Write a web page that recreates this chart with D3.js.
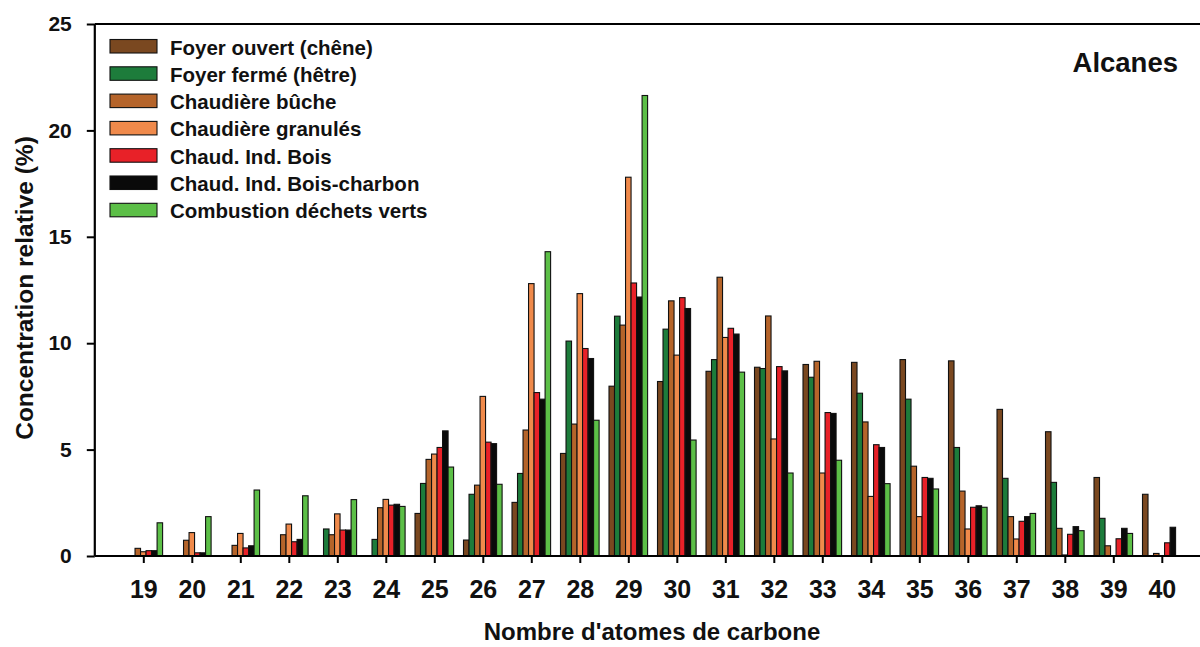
<!DOCTYPE html>
<html><head><meta charset="utf-8">
<script src="https://cdn.jsdelivr.net/npm/d3@7"></script>
<style>body{margin:0;background:#fff;}svg{display:block;font-family:"Liberation Sans",Arial,sans-serif;font-weight:bold;}</style>
</head><body>
<svg id="c" width="1200" height="647"></svg>
<script>
const categories = [19,20,21,22,23,24,25,26,27,28,29,30,31,32,33,34,35,36,37,38,39,40];
const seriesNames = ["Foyer ouvert (chêne)","Foyer fermé (hêtre)","Chaudière bûche","Chaudière granulés","Chaud. Ind. Bois","Chaud. Ind. Bois-charbon","Combustion déchets verts"];
const seriesColors = ["#7a4820","#1d7c3b","#b5642a","#f08a4b","#e82128","#0a0a0a","#5cbf47"];
const foyerOuvert   = [0,0,0,0,0,0,2.0,0.75,2.52,4.82,7.98,8.2,8.68,8.87,9.0,9.1,9.23,9.17,6.89,5.84,3.69,2.9];
const foyerFerme    = [0,0,0,0,1.27,0.78,3.41,2.9,3.88,10.1,11.27,10.66,9.23,8.81,8.4,7.65,7.37,5.1,3.65,3.46,1.77,0];
const chaudBuche    = [0.36,0.74,0.5,1.0,1.0,2.27,4.54,3.33,5.92,6.2,10.85,11.99,13.1,11.28,9.15,6.3,4.22,3.05,1.85,1.3,0.48,0.12];
const chaudGranules = [0.2,1.1,1.06,1.5,1.98,2.66,4.79,7.5,12.8,12.33,17.8,9.44,10.27,5.5,3.9,2.8,1.85,1.27,0.8,0.05,0,0];
const indBois       = [0.25,0.15,0.38,0.67,1.22,2.39,5.1,5.35,7.68,9.75,12.83,12.14,10.7,8.9,6.74,5.23,3.69,2.29,1.63,1.02,0.81,0.62];
const indBoisCharbon= [0.25,0.15,0.48,0.78,1.22,2.43,5.88,5.28,7.37,9.28,12.17,11.63,10.43,8.7,6.7,5.1,3.65,2.36,1.85,1.38,1.3,1.35];
const dechetsVerts  = [1.56,1.85,3.1,2.83,2.65,2.33,4.18,3.37,14.3,6.38,21.64,5.45,8.64,3.9,4.5,3.4,3.15,2.29,2.0,1.19,1.06,0];
const yTicks = [0,5,10,15,20,25];
const seriesValues = [foyerOuvert,foyerFerme,chaudBuche,chaudGranules,indBois,indBoisCharbon,dechetsVerts];

const svg = d3.select("#c");
const x = d3.scaleLinear().domain([18,41]).range([94.8,1210.3]);
const y = d3.scaleLinear().domain([0,25]).range([556,24]);
const inner = d3.scaleBand().domain(d3.range(seriesNames.length)).range([-19.3,19.3]);

// bars
const g = svg.append("g");
seriesValues.forEach((vals,si)=>{
  g.selectAll(null).data(categories.map((c,i)=>({c,v:vals[i]})).filter(d=>d.v>0))
   .enter().append("rect")
   .attr("x",d=>x(d.c)+inner(si))
   .attr("width",inner.bandwidth())
   .attr("y",d=>y(d.v))
   .attr("height",d=>y(0)-y(d.v))
   .attr("fill",seriesColors[si])
   .attr("stroke","#111").attr("stroke-width",1.1);
});

// axes
const xAxis = d3.axisBottom(x).tickValues(categories).tickSize(7).tickPadding(17).tickFormat(d3.format("d"));
const xg = svg.append("g").attr("transform",`translate(0,${y(0)})`).call(xAxis);
xg.select(".domain").remove();
xg.selectAll("line").attr("stroke","#000").attr("stroke-width",2);
xg.selectAll("text").attr("font-size",25).attr("font-weight","bold").attr("fill","#111");

const yAxis = d3.axisLeft(y).tickValues(yTicks).tickSize(8).tickPadding(15);
const yg = svg.append("g").attr("transform",`translate(${x(18)},0)`).call(yAxis);
yg.select(".domain").remove();
yg.selectAll("line").attr("stroke","#000").attr("stroke-width",2);
yg.selectAll("text").attr("font-size",21).attr("font-weight","bold").attr("fill","#111");

// frame lines
svg.append("line").attr("x1",x(18)).attr("x2",1200).attr("y1",y(0)).attr("y2",y(0)).attr("stroke","#000").attr("stroke-width",2.2);
svg.append("line").attr("x1",x(18)).attr("x2",1200).attr("y1",y(25)).attr("y2",y(25)).attr("stroke","#000").attr("stroke-width",2.2);
svg.append("line").attr("x1",x(18)).attr("x2",x(18)).attr("y1",y(25)).attr("y2",y(0)).attr("stroke","#000").attr("stroke-width",2.2);

// titles
svg.append("text").attr("x",652).attr("y",640).attr("text-anchor","middle").attr("font-size",24).attr("fill","#111").text("Nombre d'atomes de carbone");
svg.append("text").attr("transform","translate(33,288) rotate(-90)").attr("text-anchor","middle").attr("font-size",24.5).attr("fill","#111").text("Concentration relative (%)");
svg.append("text").attr("x",1178).attr("y",72).attr("text-anchor","end").attr("font-size",27.5).attr("fill","#111").text("Alcanes");

// legend
const lg = svg.append("g");
seriesNames.forEach((n,i)=>{
  const ty = 39.5 + i*27.3;
  lg.append("rect").attr("x",110).attr("y",ty).attr("width",47).attr("height",13.5)
    .attr("fill",seriesColors[i]).attr("stroke","#111").attr("stroke-width",1.1);
  lg.append("text").attr("x",170).attr("y",ty+15).attr("font-size",20.5).attr("fill","#111").text(n);
});
</script>
</body></html>
